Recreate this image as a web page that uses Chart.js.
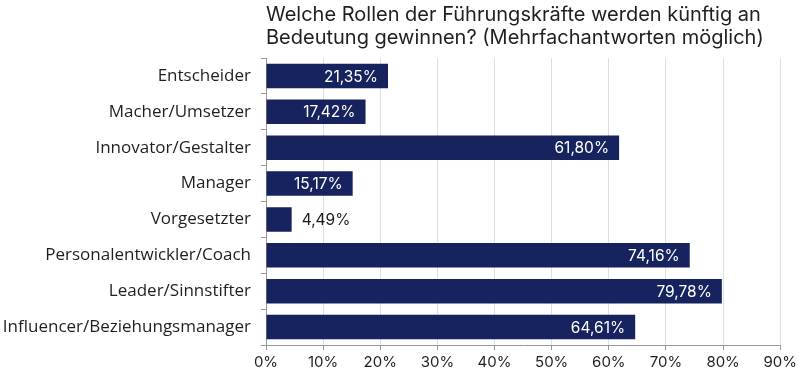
<!DOCTYPE html>
<html lang="de">
  <head>
    <meta charset="UTF-8" />
    <title>Rollen der Führungskräfte</title>
    <script src="https://cdn.jsdelivr.net/npm/chart.js@4.4.0/dist/chart.umd.min.js"></script>
    <style>
      html, body { margin: 0; padding: 0; background: #ffffff; }
      .chart-container { width: 800px; height: 374px; position: relative; }
    </style>
  </head>
  <body>
    <div class="chart-container">
      <canvas id="rollenChart"></canvas>
    </div>

    <script>
      const categories = [
        "Entscheider",
        "Macher/Umsetzer",
        "Innovator/Gestalter",
        "Manager",
        "Vorgesetzter",
        "Personalentwickler/Coach",
        "Leader/Sinnstifter",
        "Influencer/Beziehungsmanager",
      ];
      const shares = [21.35, 17.42, 61.8, 15.17, 4.49, 74.16, 79.78, 64.61];
      const titleLines = [
        "Welche Rollen der Führungskräfte werden künftig an",
        "Bedeutung gewinnen? (Mehrfachantworten möglich)",
      ];

      const barColor = "#16235e";
      const fmt = (v) => v.toFixed(2).replace(".", ",") + "%";

      // value labels: white inside the bar end, dark outside for short bars
      const valueLabels = {
        id: "valueLabels",
        afterDatasetsDraw(chart) {
          const ctx = chart.ctx;
          const meta = chart.getDatasetMeta(0);
          ctx.save();
          ctx.font = "15.5px Inter";
          ctx.textBaseline = "middle";
          meta.data.forEach((bar, i) => {
            const text = fmt(shares[i]);
            const w = ctx.measureText(text).width;
            const barLen = bar.x - bar.base;
            if (barLen > w + 16) {
              ctx.fillStyle = "#ffffff";
              ctx.textAlign = "right";
              ctx.fillText(text, bar.x - 10, bar.y + 1);
            } else {
              ctx.fillStyle = "#1a1a1a";
              ctx.textAlign = "left";
              ctx.fillText(text, bar.x + 10, bar.y + 1);
            }
          });
          ctx.restore();
        },
      };

      new Chart(document.getElementById("rollenChart"), {
        type: "bar",
        data: {
          labels: categories,
          datasets: [
            {
              data: shares,
              backgroundColor: barColor,
              barPercentage: 0.68,
              categoryPercentage: 1,
            },
          ],
        },
        options: {
          indexAxis: "y",
          responsive: true,
          maintainAspectRatio: false,
          animation: false,
          layout: { padding: { top: 3, right: 0, bottom: 0, left: 0 } },
          plugins: {
            legend: { display: false },
            tooltip: { enabled: false },
            title: {
              display: true,
              text: titleLines,
              align: "start",
              fullSize: false,
              color: "#1f1f1f",
              font: { family: "Inter", size: 20, weight: "normal", lineHeight: 1.15 },
              padding: { top: 0, bottom: 9 },
            },
          },
          scales: {
            x: {
              min: 0,
              max: 90,
              ticks: {
                stepSize: 10,
                color: "#1f1f1f",
                font: { family: "Inter", size: 15 },
                padding: 3,
                callback: (v) => v + "%",
              },
              grid: { color: "#dedede", tickLength: 5, tickColor: "#999999" },
              border: { color: "#999999" },
            },
            y: {
              afterFit: (scale) => { scale.width = 266; },
              ticks: {
                color: "#1f1f1f",
                font: { family: "Open Sans", size: 17 },
                padding: 10,
              },
              grid: {
                drawOnChartArea: false,
                tickLength: 5,
                tickColor: "#999999",
                offset: true,
              },
              border: { color: "#999999" },
            },
          },
        },
        plugins: [valueLabels],
      });
    </script>
  </body>
</html>
